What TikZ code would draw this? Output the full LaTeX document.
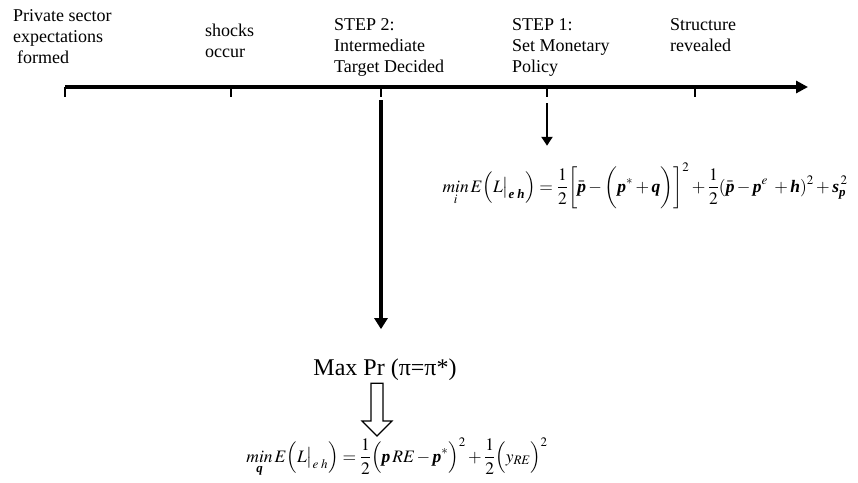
\documentclass[tikz,border=0pt]{standalone}
\usepackage{amsmath}
\usepackage{mathptmx}
\usepackage{fontspec}
\setmainfont{Liberation Serif}
\usetikzlibrary{
  arrows.meta,
  calc,
}
\newcommand{\bvar}[1]{\text{\bfseries\itshape #1}}
\tikzset{
  timeline/.style={
    -{Triangle[length=12pt,width=12pt]}, line width=4pt,
  },
  tickmark/.style={line width=2pt},
  eventlabel/.style={
    anchor=base west, align=left, inner sep=0pt,
    font=\fontsize{18}{21}\selectfont,
  },
  arrowBig/.style={
    -{Triangle[length=11pt,width=13pt]}, line width=3.5pt,
  },
  arrowSmall/.style={
    -{Triangle[length=9pt,width=11pt]}, line width=2.5pt,
  },
  eqnode/.style={
    anchor=base, inner sep=0pt, font=\fontsize{17.5}{21}\selectfont,
  },
  hollowArrow/.style={draw, line width=1.2pt, fill=white},
}

\begin{document}
\begin{tikzpicture}[x=1pt, y=-1pt]
\useasboundingbox (0,0) rectangle (858,482);

% time line
\foreach \i/\xx in {0/65, 1/231, 2/381, 3/547, 4/695}
  \coordinate (t\i) at (\xx,87);
\coordinate (tend) at (808,87);
\draw[timeline] (t0) -- (tend);
\foreach \i in {0,...,4}
  \draw[tickmark] (t\i) -- ++(0,10);

% labels sit on the baseline of their last line
\node[eventlabel] (privlab) at (13,63)
  {Private sector\\expectations\\\hspace{4pt}formed};
\node[eventlabel] (shocklab) at (205,57) {shocks\\occur};
\node[eventlabel] (steptwo) at (334,72)
  {STEP 2:\\Intermediate\\Target Decided};
\node[eventlabel] (stepone) at (512,72)
  {STEP 1:\\Set Monetary\\Policy};
\node[eventlabel] (structlab) at (670,51) {Structure\\revealed};

% policy problems
\node[eqnode] (eqone) at (645,192)
  {$\displaystyle \mathop{\mathit{min}}\limits_{i} E\Bigl(L\big|_{\bvar{e}\;\bvar{h}}\Bigr)
   =\dfrac{1}{2}\biggl[\bar{\bvar{p}}-\biggl(\bvar{p}^{*}+\bvar{q}\biggr)\biggr]^{2}
   +\dfrac{1}{2}(\bar{\bvar{p}}-\bvar{p}^{e}\;+\bvar{h})^{2}
   +\bvar{s}_{\bvar{p}}^{\,2}$};
\node[font=\fontsize{24}{27}\selectfont, anchor=base, inner sep=0pt]
  (maxpr) at (385,375) {Max Pr (π=π*)};
\node[eqnode] (eqtwo) at (397,462)
  {$\displaystyle \mathop{\mathit{min}}\limits_{\bvar{q}} E\Bigl(L\big|_{e\;h}\Bigr)
   =\dfrac{1}{2}\Bigl(\bvar{p}\,\mathit{RE}-\bvar{p}^{*}\Bigr)^{2}
   +\dfrac{1}{2}\Bigl(y_{\mathit{RE}}\Bigr)^{2}$};

\draw[arrowBig, shorten <=13pt, shorten >=29pt] (t2) -- (t2 |- maxpr.north);
\draw[arrowSmall, shorten <=16pt, shorten >=17pt] (t3) -- (t3 |- eqone.north);

\coordinate (htop) at ($(t2 |- maxpr.south)+(-4,3)$);
\coordinate (htip) at ($(t2 |- eqtwo.north)+(-4,-2)$);
\draw[hollowArrow] ($(htop)+(-6,0)$) -- ($(htip)+(-6,-15)$)
  -- ($(htip)+(-15,-15)$) -- (htip) -- ($(htip)+(15,-15)$)
  -- ($(htip)+(6,-15)$) -- ($(htop)+(6,0)$) -- cycle;

\end{tikzpicture}
\end{document}
